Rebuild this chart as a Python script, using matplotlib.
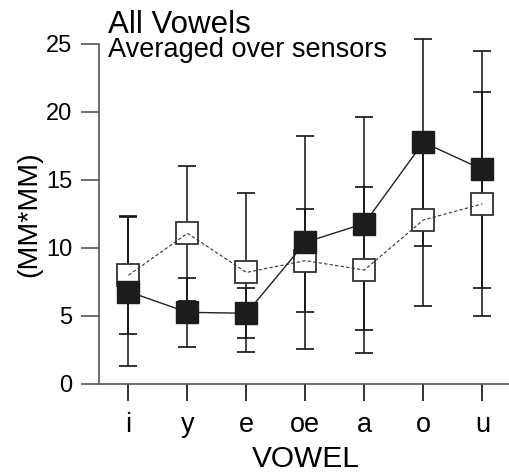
import matplotlib.pyplot as plt
import numpy as np

plt.rcParams["font.family"] = ["Liberation Sans", "DejaVu Sans"]

vowels = ["i", "y", "e", "oe", "a", "o", "u"]

# filled squares, solid line
filled_mean = [6.79, 5.27, 5.2, 10.42, 11.8, 17.77, 15.78]
filled_err = [5.5, 2.55, 1.83, 7.85, 7.86, 7.62, 8.71]

# open squares, dashed line
open_mean = [8.0, 11.08, 8.2, 9.07, 8.38, 12.06, 13.24]
open_err = [4.35, 4.97, 5.82, 3.77, 6.08, 6.3, 8.26]

x = np.arange(len(vowels))

fig = plt.figure(figsize=(5.09, 4.74), dpi=100)
ax = fig.add_axes([0.1945, 0.1899, 0.811, 0.7173])

err_style = dict(fmt="none", ecolor="#111111", elinewidth=1.1, capsize=6.5, capthick=1.2)
for mean, err in ((open_mean, open_err), (filled_mean, filled_err)):
    bars = ax.errorbar(x, mean, yerr=err, zorder=1, **err_style)
    for artist in bars.lines[1] + bars.lines[2]:
        artist.set_clip_on(False)

# open markers first, dashed line over them
ax.plot(x, open_mean, linestyle="none", marker="s", markersize=15.5,
        markerfacecolor="white", markeredgecolor="#333333", markeredgewidth=1.3, zorder=2)
ax.plot(x, open_mean, linestyle=(0, (3, 2)), color="#333333", linewidth=0.8, zorder=3)

ax.plot(x, filled_mean, linestyle="-", color="#222222", linewidth=1.0, marker="s",
        markersize=15.5, markerfacecolor="#1c1c1c", markeredgecolor="#1c1c1c", zorder=4)

ax.set_xlim(-0.5, 6.5)
ax.set_ylim(0, 25)
ax.set_yticks([0, 5, 10, 15, 20, 25])
ax.set_xticks(x)
ax.set_xticklabels(vowels)

for side in ("top", "right"):
    ax.spines[side].set_visible(False)
for side in ("left", "bottom"):
    ax.spines[side].set_color("#555555")
    ax.spines[side].set_linewidth(1.2)

ax.tick_params(axis="y", direction="out", length=13, width=1.2, color="#555555",
               labelsize=17, pad=6)
ax.tick_params(axis="x", direction="out", length=12, width=1.2, color="#111111",
               labelsize=19.5, pad=8.5)

ax.set_xlabel("VOWEL", fontsize=21.5, labelpad=5)
ax.set_ylabel("(MM*MM)", fontsize=20.5, labelpad=3)

fig.text(108 / 509, 1 - 33 / 474, "All Vowels", fontsize=22.5, va="baseline", ha="left")
fig.text(108 / 509, 1 - 57 / 474, "Averaged over sensors", fontsize=19.5, va="baseline", ha="left")

fig.savefig("out.png", dpi=100)
